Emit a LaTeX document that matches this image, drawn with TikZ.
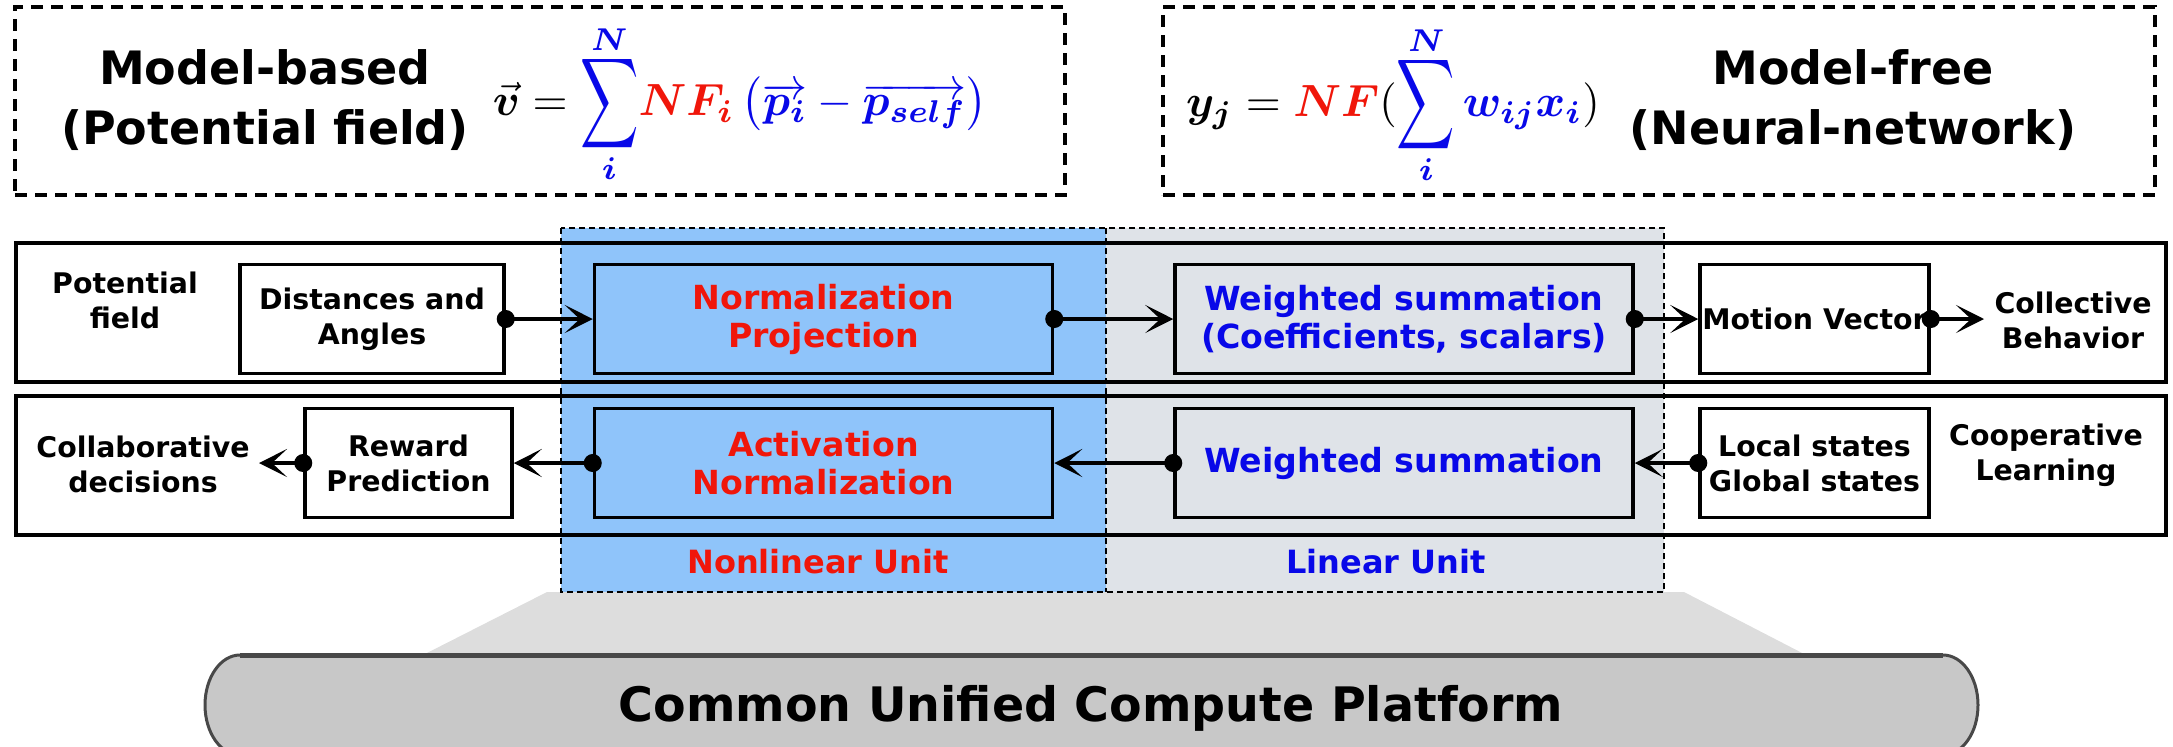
\RequirePackage{fix-cm}
\documentclass[tikz,border=0pt]{standalone}
\usepackage[no-math]{fontspec}
\setmainfont{DejaVu Sans}
\usepackage{bm}
\usepackage{graphicx}
\usetikzlibrary{arrows.meta}

\definecolor{nlblue}{RGB}{143,196,250}
\definecolor{lingrey}{RGB}{223,227,232}
\definecolor{hotred}{RGB}{240,22,10}
\definecolor{deepblue}{RGB}{8,8,232}
\definecolor{trapfill}{RGB}{221,221,221}
\definecolor{platfill}{RGB}{200,200,200}
\definecolor{platedge}{RGB}{72,72,72}

% enlarged summation sign with tightly stacked limits: \limsum{lower}{upper}
\newcommand{\limsum}[2]{\mathop{\vcenter{\offinterlineskip\halign{\hfil##\hfil\cr
  $\scriptstyle #2$\cr\noalign{\kern0.6pt}
  \scalebox{0.9}[1.4]{$\displaystyle\sum$}\cr\noalign{\kern0.8pt}
  $\scriptstyle #1$\cr}}}}

\begin{document}
\begin{tikzpicture}[x=0.5pt,y=-0.5pt,
  topbox/.style={draw, line width=1.7pt, dash pattern=on 6pt off 4pt, inner sep=0pt},
  toptext/.style={inner sep=0pt, align=center, font=\fontsize{23}{30}\selectfont\bfseries},
  formula/.style={inner sep=0pt, font=\fontsize{10}{12}\selectfont},
  rowbox/.style={draw, line width=2pt, inner sep=0pt, minimum width=1075pt, minimum height=69.5pt},
  unitbox/.style={draw, line width=1.75pt, inner sep=0pt, minimum width=229pt, minimum height=54.5pt,
    align=center, font=\fontsize{16.6}{19}\selectfont\bfseries},
  sidebox/.style={draw, fill=white, line width=1.75pt, inner sep=0pt, minimum height=54.5pt,
    align=center, font=\fontsize{14.2}{17.5}\selectfont\bfseries},
  sidelabel/.style={inner sep=0pt, align=center, font=\fontsize{14.2}{17.5}\selectfont\bfseries},
  unitlabel/.style={inner sep=0pt, font=\fontsize{16}{19}\selectfont\bfseries},
  link/.style={line width=1.75pt, {Circle[length=9pt]}-{Stealth[length=14pt,width=14pt,inset=7.5pt]},
    shorten <=-4.5pt},
  unitedge/.style={line width=1pt, dash pattern=on 3pt off 2pt}
]
\useasboundingbox (0,0) rectangle (2173,746);

% ---- compute platform and its support ----
\fill[trapfill] (547,592) -- (1684,592) -- (1806,655) -- (423,655) -- cycle;
\filldraw[fill=platfill, draw=platedge, line width=1.5pt]
  (240,655) -- (1943,655) arc[start angle=-90, end angle=90, x radius=35, y radius=50]
  -- (240,755) arc[start angle=90, end angle=270, x radius=35, y radius=50] -- cycle;
\draw[platedge, line width=2.5pt] (240,655) -- (1943,655);
\node[inner sep=0pt, font=\fontsize{23.75}{28}\selectfont\bfseries] (platform) at (1091,708)
  {Common Unified Compute Platform};

% ---- nonlinear / linear unit areas ----
\fill[nlblue] (561,228) rectangle (1106,592);
\fill[lingrey] (1106,228) rectangle (1664,592);

% ---- top panels ----
\node[topbox, minimum width=525pt, minimum height=94pt] (mbbox) at (540,101) {};
\node[topbox, minimum width=496pt, minimum height=94pt] (mfbox) at (1659,101) {};
\node[toptext] (mbtext) at (265,100) {Model-based\\(Potential field)};
\node[toptext] (mftext) at (1853,100) {Model-free\\(Neural-network)};
\node[formula] (mbeq) at (740,104)
  {\scalebox{2.25}{$\displaystyle \vec{\bm v} = {\color{deepblue}\limsum{\bm i}{\bm N}}
   {\color{hotred}\bm{NF}_{\bm i}}\,{\color{deepblue}\bigl(\overrightarrow{\bm p_{\bm i}}
   - \overrightarrow{\bm p_{\bm{self}}}\bigr)}$}};
\node[formula] (mfeq) at (1393,105)
  {\scalebox{2.25}{$\displaystyle \bm y_{\bm j} = {\color{hotred}\bm{NF}}({\color{deepblue}\limsum{\bm i}{\bm N}
   \bm w_{\bm{ij}}\bm x_{\bm i}})$}};

% ---- the two processing rows ----
\node[rowbox] (row1) at (1091,312.5) {};
\node[rowbox] (row2) at (1091,465.5) {};

% row 1: potential field
\node[sidelabel] (pf) at (125,300) {Potential\\field};
\node[sidebox, minimum width=132pt] (dist) at (372,319) {Distances and\\Angles};
\node[unitbox, text=hotred] (norm) at (823.5,319) {Normalization\\Projection};
\node[unitbox, text=deepblue] (wsum1) at (1404,319) {Weighted summation\\(Coefficients, scalars)};
\node[sidebox, minimum width=114.5pt] (motion) at (1814.5,319) {Motion Vector};
\node[sidelabel] (collective) at (2073,320) {Collective\\Behavior};
\coordinate (cbtip) at (1984,319);

% row 2: cooperative learning
\node[sidelabel] (collab) at (143,464) {Collaborative\\decisions};
\node[sidebox, minimum width=103.5pt] (reward) at (408.5,463) {Reward\\Prediction};
\node[unitbox, text=hotred] (act) at (823.5,463) {Activation\\Normalization};
\node[unitbox, text=deepblue] (wsum2) at (1404,463) {Weighted summation};
\node[sidebox, minimum width=114.5pt] (local) at (1814.5,463) {Local states\\Global states};
\node[sidelabel] (coop) at (2046,455) {Cooperative\\Learning};
\coordinate (cdtip) at (259,463);

% ---- data flow ----
\draw[link] (dist.east) -- (norm.west);
\draw[link] (norm.east) -- (wsum1.west);
\draw[link] (wsum1.east) -- (motion.west);
\draw[link] (motion.east) -- (cbtip);
\draw[link] (local.west) -- (wsum2.east);
\draw[link] (wsum2.west) -- (act.east);
\draw[link] (act.west) -- (reward.east);
\draw[link] (reward.west) -- (cdtip);

% ---- unit borders and labels ----
\draw[unitedge] (561,228) rectangle (1664,592);
\draw[unitedge] (1106,228) -- (1106,592);
\node[unitlabel, text=hotred] (nlunit) at (818,562) {Nonlinear Unit};
\node[unitlabel, text=deepblue] (linunit) at (1386,562) {Linear Unit};
\end{tikzpicture}
\end{document}
